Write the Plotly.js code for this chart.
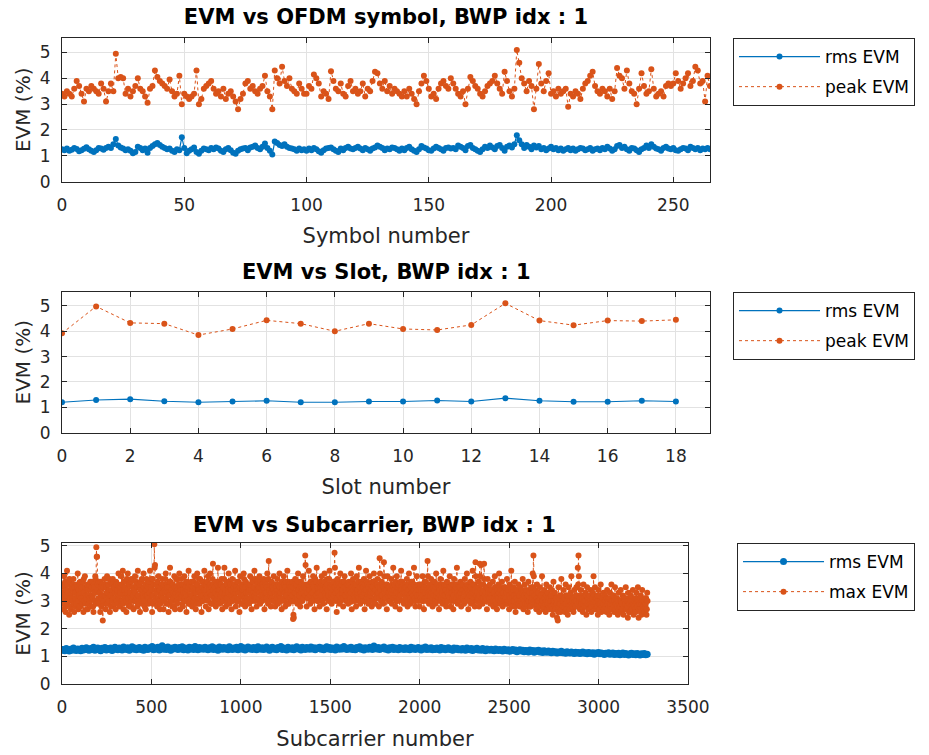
<!DOCTYPE html>
<html>
<head>
<meta charset="utf-8">
<script src="https://cdn.plot.ly/plotly-3.0.1.min.js"></script>
<style>html,body{margin:0;padding:0;background:#fff;}#chart{width:929px;height:755px;}</style>
</head>
<body>
<div id="chart"></div>
<script>
// ---------------- Panel 1: EVM vs OFDM symbol ----------------
const rmsSymbol = [
1.25,1.22,1.28,1.2,1.24,1.3,1.26,1.18,1.22,1.27,1.33,1.25,1.2,1.15,1.22,1.3,1.28,1.24,1.3,1.35,
1.3,1.45,1.65,1.4,1.32,1.28,1.22,1.25,1.2,1.1,1.15,1.35,1.3,1.22,1.28,1.12,1.3,1.38,1.45,1.5,
1.42,1.35,1.3,1.25,1.28,1.2,1.15,1.25,1.22,1.72,1.3,1.1,1.2,1.25,1.32,1.15,1.08,1.2,1.28,1.25,
1.22,1.3,1.25,1.32,1.28,1.2,1.15,1.25,1.3,1.22,1.12,1.08,1.2,1.25,1.28,1.3,1.22,1.32,1.35,1.4,
1.3,1.25,1.35,1.48,1.3,1.2,1.05,1.55,1.5,1.42,1.38,1.45,1.35,1.3,1.28,1.25,1.2,1.28,1.22,1.25,
1.2,1.28,1.22,1.3,1.25,1.18,1.12,1.22,1.28,1.3,1.32,1.25,1.2,1.15,1.28,1.22,1.3,1.35,1.28,1.25,
1.3,1.35,1.28,1.22,1.3,1.25,1.2,1.28,1.32,1.4,1.35,1.3,1.22,1.28,1.25,1.32,1.3,1.25,1.2,1.28,
1.22,1.3,1.35,1.25,1.2,1.15,1.25,1.38,1.32,1.28,1.22,1.2,1.28,1.35,1.3,1.25,1.2,1.3,1.32,1.28,
1.3,1.25,1.4,1.35,1.3,1.22,1.38,1.42,1.3,1.25,1.2,1.15,1.25,1.35,1.3,1.4,1.32,1.25,1.38,1.42,
1.3,1.2,1.35,1.4,1.32,1.45,1.8,1.6,1.45,1.3,1.42,1.35,1.25,1.4,1.32,1.38,1.25,1.3,1.22,1.28,
1.35,1.25,1.3,1.22,1.28,1.2,1.25,1.3,1.22,1.28,1.2,1.25,1.3,1.28,1.22,1.25,1.3,1.2,1.25,1.28,
1.22,1.3,1.25,1.35,1.28,1.2,1.25,1.38,1.42,1.3,1.35,1.25,1.2,1.3,1.28,1.22,1.15,1.25,1.3,1.4,
1.3,1.45,1.35,1.28,1.25,1.2,1.3,1.35,1.28,1.25,1.3,1.22,1.2,1.25,1.3,1.28,1.22,1.35,1.3,1.25,
1.3,1.22,1.28,1.25,1.3,1.25];
const peakSymbol = [
3.4,3.3,3.5,3.4,3.3,3.6,3.9,3.7,3.4,3.1,3.6,3.5,3.7,3.6,3.5,3.4,3.8,3.6,3.1,3.5,
3.8,3.5,4.95,4.0,4.05,4.0,3.4,3.6,3.3,3.5,3.7,4.0,3.6,3.5,3.3,3.05,3.6,3.7,4.3,4.05,
3.9,3.8,3.7,3.6,3.95,3.5,3.3,3.4,4.1,3.0,3.4,3.3,3.2,3.3,3.4,4.3,3.0,3.2,3.6,3.7,
3.8,3.9,3.6,3.4,3.5,3.3,3.6,3.2,3.4,3.5,3.3,3.1,2.8,3.2,3.4,3.8,3.9,3.6,3.7,3.5,
3.4,3.6,3.7,4.1,3.5,3.3,2.8,4.3,4.0,3.8,4.45,3.9,3.7,4.0,3.6,3.5,3.4,3.8,3.6,3.4,
3.4,3.7,3.6,4.15,4.0,3.8,3.3,3.5,3.4,3.2,4.27,3.9,3.6,3.5,3.8,3.4,3.3,3.7,3.9,3.5,
3.6,3.4,3.5,3.8,3.3,3.6,3.5,3.9,4.25,4.2,3.8,3.6,3.9,3.5,3.7,3.4,3.6,3.5,3.4,3.3,
3.5,3.3,3.6,3.4,3.2,3.0,3.5,3.8,4.1,3.9,3.6,3.3,3.4,3.2,3.6,3.8,3.9,3.7,3.6,4.0,
3.8,3.6,3.4,3.3,3.5,3.0,3.6,4.05,3.9,3.7,3.6,3.4,3.3,3.5,3.7,3.8,3.9,4.1,3.8,3.6,
3.4,4.25,3.9,3.5,3.3,3.6,5.1,4.6,4.0,3.8,3.5,3.9,3.7,2.8,3.6,4.55,3.8,3.5,3.9,4.2,
3.4,3.5,3.3,3.6,3.4,3.5,3.6,2.9,3.4,3.3,3.5,3.4,3.2,3.6,3.8,3.9,4.1,4.25,3.7,3.5,
3.4,3.6,3.5,3.3,3.6,3.2,3.5,4.4,4.1,4.0,3.6,4.3,3.8,3.5,3.4,3.0,3.6,4.2,3.7,3.4,
3.5,4.35,3.6,3.3,3.4,3.5,3.3,3.7,3.8,3.7,3.8,4.2,3.9,3.6,3.8,4.0,4.2,3.7,3.9,4.45,
4.3,3.8,3.9,3.1,4.1,3.7];

// ---------------- Panel 2: EVM vs Slot ----------------
const slotNumbers = [0,1,2,3,4,5,6,7,8,9,10,11,12,13,14,15,16,17,18];
const rmsSlot  = [1.2,1.29,1.32,1.24,1.2,1.23,1.26,1.2,1.2,1.23,1.23,1.27,1.23,1.36,1.26,1.22,1.22,1.26,1.23];
const peakSlot = [3.92,4.98,4.33,4.3,3.85,4.09,4.43,4.3,4.0,4.3,4.09,4.05,4.25,5.1,4.42,4.24,4.42,4.4,4.45];

// ---------------- Panel 3: EVM vs Subcarrier ----------------
// rms EVM read every 8th subcarrier (0, 8, 16, ...)
const rmsSubcarrier = [
1.22,1.25,1.2,1.28,1.23,1.19,1.26,1.22,1.3,1.24,1.21,1.27,1.25,1.2,1.29,1.23,1.26,1.31,1.24,1.22,
1.28,1.25,1.33,1.22,1.27,1.3,1.24,1.2,1.29,1.26,1.32,1.23,1.28,1.25,1.3,1.21,1.27,1.33,1.26,1.24,
1.3,1.27,1.23,1.34,1.28,1.25,1.31,1.22,1.29,1.35,1.26,1.3,1.24,1.28,1.32,1.25,1.29,1.22,1.33,1.27,
1.25,1.31,1.28,1.36,1.24,1.3,1.27,1.33,1.23,1.29,1.38,1.26,1.31,1.25,1.34,1.28,1.22,1.3,1.27,1.33,
1.29,1.25,1.32,1.27,1.35,1.24,1.3,1.28,1.23,1.33,1.27,1.31,1.25,1.36,1.29,1.24,1.32,1.27,1.3,1.26,
1.33,1.28,1.24,1.31,1.27,1.35,1.25,1.3,1.28,1.22,1.34,1.29,1.26,1.32,1.27,1.3,1.24,1.35,1.28,1.25,
1.3,1.27,1.33,1.24,1.29,1.36,1.26,1.31,1.23,1.28,1.34,1.27,1.3,1.25,1.32,1.28,1.24,1.35,1.29,1.26,
1.31,1.25,1.28,1.34,1.27,1.22,1.3,1.33,1.26,1.29,1.24,1.32,1.28,1.36,1.25,1.3,1.27,1.23,1.33,1.28,
1.26,1.31,1.24,1.29,1.35,1.27,1.3,1.23,1.33,1.28,1.25,1.32,1.29,1.26,1.34,1.27,1.31,1.24,1.3,1.28,
1.33,1.26,1.3,1.24,1.29,1.35,1.27,1.32,1.25,1.3,1.28,1.23,1.34,1.29,1.26,1.31,1.27,1.36,1.28,1.25,
1.3,1.27,1.33,1.25,1.29,1.24,1.32,1.28,1.35,1.26,1.3,1.23,1.31,1.28,1.26,1.33,1.29,1.25,1.37,1.3,
1.27,1.32,1.25,1.3,1.28,1.34,1.26,1.29,1.23,1.31,1.27,1.33,1.25,1.3,1.28,1.24,1.32,1.27,1.29,1.25,
1.31,1.26,1.29,1.24,1.33,1.27,1.3,1.25,1.28,1.32,1.26,1.23,1.3,1.27,1.34,1.25,1.29,1.26,1.31,1.24,
1.28,1.25,1.3,1.27,1.23,1.32,1.26,1.29,1.24,1.28,1.31,1.25,1.27,1.22,1.3,1.26,1.29,1.24,1.27,1.23,
1.28,1.25,1.22,1.3,1.26,1.24,1.28,1.21,1.27,1.25,1.29,1.23,1.26,1.22,1.28,1.24,1.2,1.27,1.25,1.22,
1.26,1.23,1.2,1.27,1.24,1.21,1.25,1.22,1.19,1.26,1.23,1.2,1.24,1.18,1.22,1.25,1.2,1.23,1.17,1.21,
1.24,1.19,1.22,1.17,1.21,1.2,1.16,1.23,1.19,1.21,1.15,1.2,1.18,1.22,1.16,1.19,1.14,1.2,1.17,1.15,
1.19,1.16,1.13,1.18,1.15,1.17,1.12,1.16,1.14,1.18,1.13,1.15,1.11,1.17,1.14,1.12,1.16,1.13,1.1,1.15,
1.12,1.14,1.1,1.13,1.16,1.11,1.13,1.09,1.14,1.12,1.1,1.13,1.08,1.12,1.11,1.14,1.09,1.12,1.1,1.07,
1.11,1.09,1.13,1.08,1.1,1.12,1.07,1.1,1.08,1.11,1.06,1.09,1.12,1.07,1.1,1.08,1.05,1.09,1.11,1.07,
1.09,1.06,1.1,1.08,1.05,1.09,1.07,1.1,1.06,1.08];
// max EVM read at subcarriers 0, 4, 8, ...
const maxSubcarrierA = [
3.0,3.6,2.7,3.9,3.2,2.6,3.4,4.1,2.9,3.3,2.5,3.7,3.1,2.8,3.5,3.0,3.8,2.6,3.3,3.1,
2.9,3.5,4.0,2.7,3.2,3.6,2.8,3.4,3.0,3.7,2.6,3.3,3.9,2.9,3.1,3.5,2.7,3.2,3.6,3.0,
3.4,2.8,3.7,3.1,2.6,3.5,3.0,3.8,4.95,4.6,3.6,3.1,2.9,3.3,3.7,2.8,3.2,2.3,3.5,3.0,
3.6,2.7,3.3,3.9,2.9,3.1,3.4,2.6,3.7,3.2,3.0,3.8,2.8,3.5,3.1,2.7,3.6,3.3,2.9,4.0,
3.2,2.8,3.5,3.9,3.0,4.1,2.7,3.4,3.1,3.7,2.6,3.3,4.0,2.9,3.6,3.2,2.8,3.8,3.1,3.5,
2.7,3.4,3.9,3.0,3.6,2.8,4.1,3.2,3.5,2.6,3.7,3.1,2.9,3.4,4.0,3.0,3.3,2.7,3.8,3.2,
3.5,2.9,3.7,4.1,3.0,3.4,2.6,3.8,3.2,5.05,4.3,3.1,3.6,2.8,3.4,3.9,3.0,2.7,3.5,3.2,
3.8,3.1,2.7,3.6,3.3,4.0,2.9,3.5,3.2,2.6,3.7,4.2,3.0,3.4,2.8,3.6,3.1,3.9,2.7,3.3,
3.5,2.9,3.8,3.2,4.0,2.7,3.4,3.1,3.6,2.8,3.3,3.9,3.0,3.5,2.6,3.7,3.2,4.1,2.9,3.4,
3.1,3.7,2.8,3.5,3.0,3.9,3.3,2.7,3.6,4.0,3.1,3.4,2.9,3.8,3.2,2.6,3.5,3.0,3.7,4.1,
3.3,2.8,3.6,3.1,3.9,2.7,3.4,4.0,3.2,3.5,2.9,4.35,3.6,3.0,3.3,2.8,3.7,3.1,4.2,3.4,
2.9,3.6,3.2,3.8,2.7,3.5,3.0,4.2,3.3,2.8,3.7,3.1,3.4,4.0,2.9,3.6,3.2,2.7,3.8,3.0,
3.5,3.1,4.1,2.8,3.4,3.7,3.0,3.3,2.6,3.9,3.2,3.6,2.9,3.5,4.0,3.1,2.8,3.7,3.3,3.0,
3.6,2.9,3.4,3.9,3.1,2.7,3.8,3.2,3.5,4.1,3.0,3.3,2.8,3.7,3.4,3.1,3.9,2.9,3.6,3.2,
3.0,3.5,3.8,2.7,3.3,3.6,3.1,4.0,2.9,4.45,3.4,3.2,2.8,3.7,3.5,3.0,3.9,3.3,2.8,3.6,
3.2,3.8,2.9,3.4,4.0,3.1,3.6,2.7,3.5,3.3,3.9,3.0,2.8,3.7,3.2,4.1,3.4,2.9,3.6,3.1,
3.5,3.0,3.7,2.35,2.4,3.3,3.8,3.1,3.6,2.9,4.0,3.4,3.2,2.8,3.7,3.5,3.0,3.9,3.3,3.6,
4.65,3.2,2.8,3.6,3.1,4.1,3.4,2.9,3.7,3.3,3.0,3.9,3.5,2.7,3.8,3.2,4.2,3.0,3.5,3.3,
2.8,3.7,3.1,3.9,3.4,2.9,3.6,4.0,3.2,3.5,2.7,3.8,3.3,3.0,4.1,3.6,3.1,2.9,3.4,3.7,
3.2,4.75,3.5,3.0,2.6,3.8,3.3,3.6,2.9,4.0,3.4,3.1,3.7,2.8,3.5,3.9,3.2,3.0,3.6,3.3,
2.9,3.7,3.4,3.1,4.0,2.7,3.5,3.8,3.2,3.0,3.6,2.8,3.9,3.3,3.1,4.2,3.4,2.9,3.7,3.2,
3.5,3.0,3.8,2.7,3.4,4.1,3.1,3.6,2.9,3.3,3.9,3.2,3.5,2.8,3.7,3.0,4.0,3.4,2.9,3.6,
3.1,3.8,3.3,2.8,4.55,3.5,3.0,3.7,3.2,2.9,4.4,3.4,3.1,3.6,2.7,3.9,3.3,3.0,3.5,3.2,
3.8,2.9,3.4,4.2,3.1,3.6,2.8,3.3,3.9,3.0,3.5,3.2,2.7,3.7,4.1,3.4,3.0,3.6,2.9,3.3,
3.5,3.1,3.8,2.8,3.4,4.0,3.2,2.9,3.7,3.3,3.0,3.6,4.2,3.1,2.8,3.5,3.9,3.2,3.0,3.4,
2.8,3.6,3.3,3.0,3.9,3.4,2.7,3.7,3.1,3.5,3.0,4.45,3.3,2.9,3.6,3.2,3.8,3.0,2.8,3.5,
3.2,3.7,2.9,4.0,3.3,3.0,3.6,2.7,3.4,3.8,3.1,3.5,2.9,4.1,3.2,3.6,3.0,2.8,3.7,3.3,
3.0,3.5,3.9,2.8,3.3,3.6,3.1,2.7,3.8,3.4,3.0,3.6,4.2,2.9,3.2,3.5,3.0,3.7,2.8,3.4,
3.6,3.1,2.9,3.8,3.3,3.0,4.0,3.4,2.7,3.5,3.2,3.7,2.9,3.3,4.1,3.0,3.6,2.8,4.4,3.2,
3.5,3.0,3.7,2.8,4.35,3.4,4.3,3.1,2.9,3.6,4.35,3.2,3.0,3.5,2.7,3.8,3.3,3.0,3.6,2.9,
3.4,3.1,3.7,2.8,3.3,3.9,3.0,3.5,2.7,3.2,3.6,4.0,2.9,3.4,3.1,3.7,2.8,3.3,3.0,3.5,
3.2,2.9,3.8,3.0,3.4,2.7,3.6,3.1,4.1,2.8,3.3,3.5,3.0,3.7,2.6,3.2,3.4,2.9,3.6,3.1,
2.8,3.5,3.0,3.3,3.8,2.7,3.2,3.6,2.9,3.4,3.1,2.6,3.7,3.0,3.3,2.8,3.5,3.1,4.0,4.65,
3.2,2.9,3.4,2.7,3.6,3.0,3.3,2.6,3.5,2.8,3.2,3.9,3.0,2.7,3.4,3.1,2.6,3.6,2.9,3.3,
3.0,2.7,3.5,3.2,2.8,3.4,2.5,3.7,3.0,3.3,2.7,3.1,2.4,2.3,3.5,2.9,3.2,2.6,3.8,3.0,
2.8,3.4,3.1,2.6,3.6,2.9,3.2,2.5,3.5,3.0,2.7,3.3,3.9,2.8,3.1,2.6,3.4,3.0,2.8,3.5,
3.2,4.2,4.65,3.0,2.7,3.4,2.9,3.1,2.6,3.6,3.0,2.8,3.3,2.5,3.5,3.1,2.7,3.2,2.9,3.4,
2.6,3.0,3.3,3.9,2.8,3.5,3.1,2.7,3.2,2.5,3.4,2.9,3.0,3.6,2.6,3.1,2.8,3.3,2.7,3.2,
3.0,2.6,3.4,2.9,3.1,2.5,3.3,2.8,3.6,2.7,3.0,3.2,2.6,3.5,2.9,2.7,3.1,2.5,3.3,2.8,
3.0,3.4,2.6,2.9,3.2,2.5,3.1,2.8,3.5,2.7,3.0,2.4,3.3,2.9,2.6,3.2,3.0,2.7,3.4,2.5,
2.8,3.1,2.6,3.3,2.9,3.5,2.4,3.0,2.7,3.2,2.5,3.4,2.8,3.0,2.6,3.1,2.9,2.5,3.3];
// max EVM read at subcarriers 2, 6, 10, ...
const maxSubcarrierB = [
3.3,2.9,3.5,3.1,3.7,2.8,3.2,3.6,3.4,3.0,3.8,3.2,2.7,3.4,3.1,3.6,2.9,3.5,3.3,2.8,
3.6,3.2,3.0,3.4,2.8,3.7,3.1,3.5,2.9,3.3,3.8,3.0,3.5,3.2,2.7,3.6,3.4,2.9,3.1,3.7,
3.1,3.5,3.2,2.8,3.6,3.3,3.9,2.9,4.6,3.4,3.0,3.7,3.3,2.6,3.5,3.1,3.6,2.9,3.2,3.8,
3.2,3.5,2.9,3.3,3.6,3.0,3.8,3.2,2.8,3.4,3.6,3.1,3.5,2.9,3.3,3.7,3.0,3.4,3.6,3.1,
3.5,3.3,3.0,3.6,3.4,2.9,3.7,3.2,3.5,3.0,3.8,3.4,3.1,3.6,2.8,3.3,3.7,3.0,3.5,3.2,
3.4,3.0,3.3,3.7,3.1,3.5,3.2,2.9,3.6,3.4,3.0,3.8,3.3,3.1,3.5,2.8,3.6,3.2,3.4,3.7,
3.1,3.6,3.3,3.0,3.5,3.8,3.2,2.9,3.6,4.2,3.4,3.0,3.3,3.7,3.1,3.5,3.4,2.9,3.2,3.6,
3.3,3.5,3.0,3.4,3.8,3.1,3.6,3.3,2.9,3.5,3.2,3.7,3.4,3.0,3.6,3.3,2.8,3.5,3.2,3.8,
3.0,3.4,3.3,3.6,3.1,3.5,3.8,3.2,2.9,3.4,3.6,3.1,3.3,3.7,3.0,3.4,3.5,2.9,3.6,3.2,
3.5,3.2,3.4,3.0,3.7,3.1,3.5,3.3,2.9,3.6,3.4,3.8,3.1,3.3,3.5,3.0,3.7,3.2,3.4,3.6,
3.1,3.4,3.2,3.7,3.0,3.5,3.3,3.6,2.9,3.2,3.8,3.4,3.1,3.5,3.3,3.0,3.6,3.4,3.2,3.7,
3.4,3.1,3.6,3.3,3.0,3.5,3.8,3.2,3.4,3.1,3.6,2.9,3.3,3.7,3.5,3.0,3.4,3.2,3.6,3.3,
3.2,3.6,3.3,3.5,3.0,3.4,3.7,3.1,3.5,3.3,2.9,3.6,3.4,3.2,3.8,3.0,3.5,3.3,3.1,3.6,
3.3,3.5,3.1,3.6,3.4,3.0,3.7,3.3,3.5,3.2,3.8,3.1,3.4,3.6,3.0,3.5,3.3,3.7,3.2,3.4,
3.6,3.2,3.4,3.1,3.7,3.3,3.5,3.0,3.8,3.4,3.2,3.6,3.3,3.1,3.5,3.4,3.0,3.6,3.3,3.5,
3.1,3.4,3.6,3.2,3.5,3.3,3.0,3.7,3.4,3.1,3.6,3.3,3.5,3.2,2.9,3.4,3.7,3.1,3.5,3.3,
3.4,3.2,3.5,2.5,3.0,3.6,3.3,3.5,3.1,3.4,3.7,3.2,3.5,3.0,3.3,3.6,3.4,3.1,3.5,3.2,
4.3,3.5,3.3,3.1,3.6,3.4,3.2,3.7,3.0,3.5,3.3,3.6,3.1,3.4,3.2,3.7,3.5,3.3,3.0,3.6,
3.3,3.5,3.2,3.6,3.0,3.4,3.7,3.3,3.5,3.1,3.6,3.4,3.2,3.8,3.0,3.5,3.3,3.6,3.1,3.4,
3.5,4.2,3.3,3.6,3.1,3.4,3.7,3.2,3.5,3.0,3.6,3.3,3.4,3.1,3.7,3.5,3.2,3.4,3.0,3.6,
3.4,3.2,3.6,3.3,3.5,3.0,3.7,3.4,3.1,3.5,3.3,3.6,3.2,3.4,3.7,3.0,3.5,3.3,3.1,3.6,
3.2,3.5,3.3,3.6,3.0,3.4,3.7,3.2,3.5,3.1,3.6,3.3,3.4,3.0,3.5,3.3,3.7,3.1,3.4,3.2,
3.6,3.3,3.5,3.1,4.0,3.4,3.2,3.6,3.0,3.5,3.9,3.3,3.1,3.4,3.6,3.2,3.5,3.3,3.0,3.4,
3.3,3.6,3.1,3.5,3.4,3.2,3.7,3.0,3.5,3.3,3.6,3.1,3.4,3.2,3.5,3.7,3.3,3.0,3.4,3.6,
3.2,3.5,3.3,3.0,3.6,3.4,3.1,3.5,3.3,3.7,3.2,3.4,3.6,3.0,3.3,3.5,3.1,3.4,3.6,3.2,
3.5,3.1,3.4,3.6,3.2,3.0,3.5,3.3,3.7,3.1,3.4,3.9,3.2,3.5,3.0,3.4,3.3,3.6,3.1,3.3,
3.4,3.0,3.5,3.2,3.6,3.3,3.1,3.5,3.2,3.0,3.6,3.3,3.4,3.1,3.5,3.2,3.4,3.6,3.0,3.3,
3.2,3.4,3.1,3.5,3.0,3.3,3.6,3.2,3.0,3.4,3.5,3.1,3.3,3.6,3.0,3.2,3.5,3.3,3.1,3.4,
3.1,3.4,3.3,3.0,3.5,3.2,3.6,3.1,3.3,3.0,3.4,3.5,3.2,3.0,3.6,3.3,3.1,3.4,3.9,3.0,
3.3,3.1,3.5,3.2,3.9,3.0,3.6,3.3,3.1,3.4,3.8,3.0,3.3,3.1,3.5,3.2,3.4,3.1,3.3,3.0,
3.2,3.4,3.0,3.3,3.1,3.5,3.2,2.9,3.4,3.1,3.3,3.5,3.0,3.2,3.4,2.9,3.3,3.1,3.5,3.0,
3.1,3.3,2.9,3.4,3.0,3.2,3.5,2.9,3.3,3.1,3.4,3.0,3.2,2.8,3.4,3.1,3.0,3.3,2.9,3.2,
3.0,3.2,3.4,2.9,3.1,3.3,3.0,2.8,3.3,3.1,2.9,3.2,3.0,3.4,2.8,3.1,3.0,3.3,3.5,3.9,
3.0,3.2,2.8,3.1,2.9,3.3,3.0,2.8,3.1,3.2,2.9,3.0,3.3,2.8,3.1,2.9,3.2,3.0,2.7,3.1,
2.8,3.1,2.9,3.0,3.2,2.7,3.0,2.9,3.2,2.8,3.1,2.9,3.0,2.6,2.8,3.1,2.9,3.2,2.7,3.0,
3.0,2.8,3.1,2.9,3.2,2.7,3.0,2.9,3.1,2.8,3.0,3.2,2.9,3.0,2.7,3.1,2.9,2.8,3.2,3.0,
2.9,3.6,3.9,3.1,2.8,3.0,3.2,2.7,2.9,3.1,2.8,3.0,3.2,2.8,2.9,3.0,3.1,2.7,3.0,2.9,
2.8,3.1,2.9,3.2,3.0,2.7,2.9,3.1,2.8,3.0,3.2,2.7,2.9,3.0,2.8,3.1,2.9,2.7,3.0,2.8,
2.9,3.1,2.7,3.0,2.8,3.1,2.9,2.7,3.0,2.9,3.2,2.8,3.0,2.7,3.1,2.9,2.8,3.0,2.7,2.9,
2.8,3.0,2.9,2.7,3.1,2.8,3.0,2.9,2.7,3.1,2.8,3.0,2.6,2.9,3.0,2.8,2.7,3.0,2.9,2.8,
3.0,2.7,2.9,3.1,2.8,3.0,2.7,2.9,3.1,2.6,2.9,3.0,2.8,2.7,3.0,2.8,3.1,2.7,3.0];
const RMS_SC_STEP = 8;     // subcarrier spacing of the rms readings
const MAX_SC_STEP = 4;     // subcarrier spacing within each max-EVM reading set
const MAX_SC_OFFSET_B = 2; // first subcarrier of set B

// tick values
const yTicks = [0,1,2,3,4,5];
const symTicks = [0,50,100,150,200,250];
const slotTicks = [0,2,4,6,8,10,12,14,16,18];
const scTicks = [0,500,1000,1500,2000,2500,3000,3500];

const titles = ['EVM vs OFDM symbol, BWP idx : 1', 'EVM vs Slot, BWP idx : 1', 'EVM vs Subcarrier, BWP idx : 1'];
const xLabels = ['Symbol number', 'Slot number', 'Subcarrier number'];
const yLabel = 'EVM (%)';
const legendNames = ['rms EVM', 'peak EVM', 'rms EVM', 'peak EVM', 'rms EVM', 'max EVM'];

// ---------------- styling ----------------
const BLUE = '#0072BD', ORANGE = '#D95319';
const FONT = 'DejaVu Sans, Arial, sans-serif';
const INK = '#262626';

const symX = rmsSymbol.map((_, i) => i);
const rmsScX = rmsSubcarrier.map((_, i) => i * RMS_SC_STEP);
// merge the two max-EVM reading sets in subcarrier order
const maxScX = [], maxScY = [];
maxSubcarrierA.forEach((v, i) => {
  maxScX.push(i * MAX_SC_STEP); maxScY.push(v);
  if (i < maxSubcarrierB.length) { maxScX.push(i * MAX_SC_STEP + MAX_SC_OFFSET_B); maxScY.push(maxSubcarrierB[i]); }
});

function rmsTrace(x, y, xa, ya, lg, name, msize) {
  return {x, y, xaxis: xa, yaxis: ya, legend: lg, legendgroup: lg + 'rms', name, type: 'scatter', mode: 'lines+markers',
    line: {color: BLUE, width: 1.2}, marker: {color: BLUE, size: msize}, hoverinfo: 'x+y'};
}
function peakTrace(x, y, xa, ya, lg, name, msize) {
  return {x, y, xaxis: xa, yaxis: ya, legend: lg, legendgroup: lg + 'peak', name, type: 'scatter', mode: 'lines+markers',
    line: {color: ORANGE, width: 1, dash: 'dot'}, marker: {color: ORANGE, size: msize}, hoverinfo: 'x+y'};
}

const data = [
  rmsTrace(symX, rmsSymbol, 'x', 'y', 'legend', legendNames[0], 6),
  peakTrace(symX, peakSymbol, 'x', 'y', 'legend', legendNames[1], 6),
  rmsTrace(slotNumbers, rmsSlot, 'x2', 'y2', 'legend2', legendNames[2], 6),
  peakTrace(slotNumbers, peakSlot, 'x2', 'y2', 'legend2', legendNames[3], 6),
  rmsTrace(rmsScX, rmsSubcarrier, 'x3', 'y3', 'legend3', legendNames[4], 7),
  peakTrace(maxScX, maxScY, 'x3', 'y3', 'legend3', legendNames[5], 6),
];

function xAxis(domain, range, ticks, label, anchor) {
  return {domain, range, tickvals: ticks, anchor, showline: true, linecolor: INK, linewidth: 1, mirror: 'ticks',
    ticks: 'inside', ticklen: 5, tickcolor: INK, showgrid: true, gridcolor: '#e2e2e2', zeroline: false,
    tickfont: {family: FONT, size: 17, color: INK}, ticklabelstandoff: 8,
    title: {text: label, font: {family: FONT, size: 21, color: INK}, standoff: 14}};
}
function yAxis(domain, range, anchor) {
  return {domain, range, tickvals: yTicks, anchor, showline: true, linecolor: INK, linewidth: 1, mirror: 'ticks',
    ticks: 'inside', ticklen: 5, tickcolor: INK, showgrid: true, gridcolor: '#e2e2e2', zeroline: false,
    tickfont: {family: FONT, size: 17, color: INK}, ticklabelstandoff: 7,
    title: {text: yLabel, font: {family: FONT, size: 20, color: INK}, standoff: 3}};
}
function legendBox(x, y) {
  return {x, y, xanchor: 'left', yanchor: 'top', bgcolor: '#ffffff', bordercolor: INK, borderwidth: 1,
    font: {family: FONT, size: 17, color: '#000'}, itemwidth: 81, tracegroupgap: 5, traceorder: 'grouped'};
}

const layout = {
  width: 929, height: 755,
  margin: {l: 62, r: 219, t: 38, b: 71, pad: 0},
  paper_bgcolor: '#ffffff', plot_bgcolor: '#ffffff',
  showlegend: true,
  title: {text: titles[0], font: {family: FONT, size: 21, color: '#000', weight: 'bold'},
    xref: 'paper', x: 0.5, xanchor: 'center', yref: 'container', y: 0.978, yanchor: 'middle'},
  xaxis: xAxis([0, 1], [0, 265], symTicks, xLabels[0], 'y'),
  yaxis: yAxis([0.7776, 1], [0, 5.56], 'x'),
  xaxis2: xAxis([0, 1], [0, 19], slotTicks, xLabels[1], 'y2'),
  yaxis2: yAxis([0.389, 0.6073], [0, 5.56], 'x2'),
  xaxis3: xAxis([0, 0.966], [0, 3500], scTicks, xLabels[2], 'y3'),
  yaxis3: yAxis([0, 0.2183], [0, 5.1], 'x3'),
  legend: legendBox(1.0355, 1.0),
  legend2: legendBox(1.0355, 0.6068),
  legend3: legendBox(1.0417, 0.2183),
  annotations: [
    {text: titles[1], xref: 'paper', yref: 'paper', x: 0.5, y: 0.638, xanchor: 'center', yanchor: 'middle',
      showarrow: false, font: {family: FONT, size: 21, color: '#000', weight: 'bold'}},
    {text: titles[2], xref: 'paper', yref: 'paper', x: 0.483, y: 0.246, xanchor: 'center', yanchor: 'middle',
      showarrow: false, font: {family: FONT, size: 21, color: '#000', weight: 'bold'}},
  ],
};

Plotly.newPlot('chart', data, layout, {displayModeBar: false, responsive: false});
</script>
</body>
</html>
